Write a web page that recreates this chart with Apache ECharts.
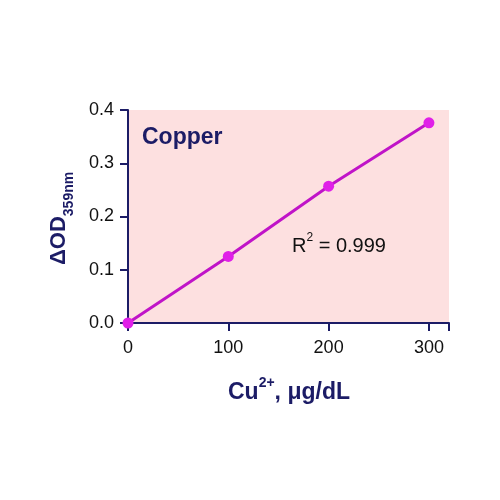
<!DOCTYPE html>
<html>
<head>
<meta charset="utf-8">
<script src="https://cdn.jsdelivr.net/npm/echarts@6/dist/echarts.min.js"></script>
<style>
  html, body { margin: 0; padding: 0; background: #fff; }
  #chart { width: 500px; height: 500px; }
</style>
</head>
<body>
<div id="chart"></div>
<script>
// standard curve data (copper)
var concentrations = [0, 100, 200, 300];
var deltaOD = [0.0, 0.125, 0.257, 0.376];
var xTicks = [0, 100, 200, 300];
var yTicks = [0.0, 0.1, 0.2, 0.3, 0.4];

var navy = '#1c1c66';
var points = concentrations.map(function (c, i) { return [c, deltaOD[i]]; });

var chart = echarts.init(document.getElementById('chart'));
chart.setOption({
  animation: false,
  grid: {
    left: 128, right: 51, top: 110, bottom: 177,
    show: true,
    backgroundColor: '#fde0e0',
    borderWidth: 0
  },
  xAxis: {
    type: 'value',
    min: 0, max: 320, interval: 100,
    axisLine: { show: true, onZero: false, lineStyle: { color: navy, width: 2 } },
    axisTick: { show: true, length: 8, lineStyle: { color: navy, width: 2 } },
    splitLine: { show: false },
    axisLabel: {
      margin: 16,
      fontFamily: 'Liberation Sans, Arial', fontSize: 18, color: '#111',
      formatter: function (v) { return xTicks.indexOf(v) >= 0 ? String(v) : ''; }
    }
  },
  yAxis: {
    type: 'value',
    min: 0, max: 0.4, interval: 0.1,
    axisLine: { show: true, lineStyle: { color: navy, width: 2 } },
    axisTick: { show: true, length: 8, lineStyle: { color: navy, width: 2 } },
    splitLine: { show: false },
    axisLabel: {
      margin: 14,
      fontFamily: 'Liberation Sans, Arial', fontSize: 18, color: '#111',
      formatter: function (v) {
        return yTicks.some(function (t) { return Math.abs(t - v) < 1e-9; }) ? v.toFixed(1) : '';
      }
    }
  },
  series: [
    {
      type: 'line',
      data: points,
      symbol: 'circle',
      symbolSize: 11,
      lineStyle: { color: '#c014c8', width: 3 },
      itemStyle: { color: '#e020e8', borderWidth: 0 },
      z: 3
    }
  ],
  graphic: [
    {
      type: 'text', left: 142, top: 126,
      style: { text: 'Copper', font: 'bold 23px Liberation Sans, Arial', fill: navy }
    },
    {
      type: 'text', left: 292, top: 232,
      style: {
        text: '{n|R}{s|2}{n| = 0.999}',
        rich: {
          n: { fontFamily: 'Liberation Sans, Arial', fontSize: 20, fill: '#111', lineHeight: 24, verticalAlign: 'bottom' },
          s: { fontFamily: 'Liberation Sans, Arial', fontSize: 12, fill: '#111', lineHeight: 24, verticalAlign: 'top' }
        }
      }
    },
    {
      type: 'text', left: 228, top: 376,
      style: {
        text: '{n|Cu}{s|2+}{n|, μg/dL}',
        rich: {
          n: { fontFamily: 'Liberation Sans, Arial', fontWeight: 'bold', fontSize: 23, fill: navy, lineHeight: 28, verticalAlign: 'bottom' },
          s: { fontFamily: 'Liberation Sans, Arial', fontWeight: 'bold', fontSize: 14, fill: navy, lineHeight: 28, verticalAlign: 'top' }
        }
      }
    },
    {
      type: 'text', x: 48, y: 265, rotation: Math.PI / 2,
      style: {
        text: '{n|ΔOD}{s|359nm}',
        rich: {
          n: { fontFamily: 'Liberation Sans, Arial', fontWeight: 'bold', fontSize: 22, fill: navy, lineHeight: 28, verticalAlign: 'top' },
          s: { fontFamily: 'Liberation Sans, Arial', fontWeight: 'bold', fontSize: 14, fill: navy, lineHeight: 28, verticalAlign: 'bottom' }
        }
      }
    }
  ]
});
</script>
</body>
</html>
